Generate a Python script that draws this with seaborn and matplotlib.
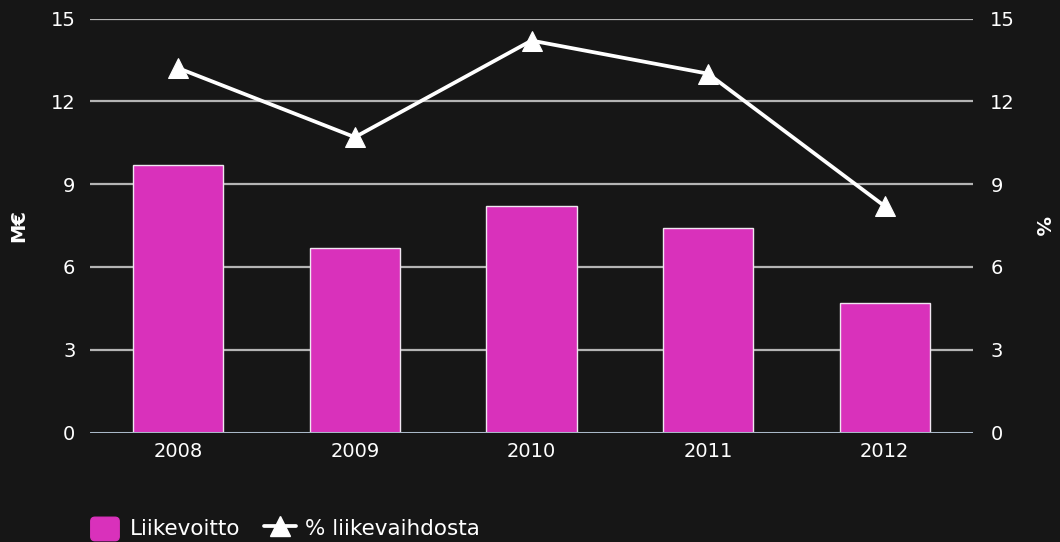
import matplotlib
matplotlib.use("Agg")
import matplotlib.pyplot as plt
import seaborn as sns
import pandas as pd
from matplotlib.patches import FancyBboxPatch
from matplotlib.lines import Line2D
from matplotlib.legend_handler import HandlerPatch

years = ["2008", "2009", "2010", "2011", "2012"]
liikevoitto = [9.7, 6.7, 8.2, 7.4, 4.7]
pct_liikevaihdosta = [13.2, 10.7, 14.2, 13.0, 8.2]
yticks = [0, 3, 6, 9, 12, 15]

BG = "#161616"
BAR = "#d931bb"
TXT = "#ffffff"

sns.set_theme(style="dark")
plt.rcParams["font.family"] = ["DejaVu Sans"]

df = pd.DataFrame({"year": years, "value": liikevoitto, "pct": pct_liikevaihdosta})

fig = plt.figure(figsize=(10.6, 5.42), dpi=100, facecolor=BG)
ax = fig.add_axes([90 / 1060, 1 - 432.5 / 542, 883 / 1060, 414 / 542])
ax.set_facecolor(BG)

sns.barplot(data=df, x="year", y="value", color=BAR, width=0.51,
            edgecolor="#f0e6f0", linewidth=1.0, saturation=1, ax=ax, zorder=3)

ax.set_xlim(-0.5, 4.5)
ax.set_ylim(0, 15)
ax.set_yticks(yticks)
ax.set_yticklabels([str(t) for t in yticks])
ax.grid(False)
for t in yticks[1:]:
    ax.axhline(t, color="#b4b4b4", linewidth=1.6, zorder=1)
ax.axhline(0, color="#a9b8c8", linewidth=2.2, zorder=4)

for s in ax.spines.values():
    s.set_visible(False)
ax.tick_params(axis="both", colors=TXT, labelsize=14, length=0, pad=10.5)
ax.tick_params(axis="x", pad=7)
ax.set_xlabel("")
ax.set_ylabel("M€", color=TXT, fontsize=14, fontweight="bold")
ax.yaxis.set_label_coords(-0.070, 0.5)

ax2 = ax.twinx()
sns.lineplot(data=df, x="year", y="pct", color="white", linewidth=2.7,
             marker="^", markersize=15, markeredgecolor="white", ax=ax2, zorder=5)
ax2.set_ylim(0, 15)
ax2.set_yticks(yticks)
ax2.set_yticklabels([str(t) for t in yticks])
ax2.grid(False)
for s in ax2.spines.values():
    s.set_visible(False)
ax2.tick_params(axis="y", colors=TXT, labelsize=14, length=0, pad=12.5)
ax2.set_ylabel("%", color=TXT, fontsize=14, fontweight="bold", rotation=-90)
ax2.yaxis.set_label_coords(1.088, 0.5)
ax2.set_xlabel("")


class RoundedPatchHandler(HandlerPatch):
    def create_artists(self, legend, orig_handle, xdescent, ydescent,
                       width, height, fontsize, trans):
        p = FancyBboxPatch((-xdescent + 1, -ydescent - 2), width - 2, height + 2,
                           boxstyle="round,pad=0,rounding_size=3",
                           facecolor=BAR, edgecolor=BAR, transform=trans)
        return [p]


bar_handle = FancyBboxPatch((0, 0), 1, 1, facecolor=BAR, label="Liikevoitto")
line_handle = Line2D([0], [0], color="white", linewidth=2.7, marker="^",
                     markersize=14, label="% liikevaihdosta")
leg = fig.legend(handles=[bar_handle, line_handle], loc="lower left",
                 bbox_to_anchor=(70 / 1060, -0.03),
                 ncol=2, frameon=False, fontsize=15.5, labelcolor=TXT,
                 handlelength=1.45, handleheight=1.1, columnspacing=1.1,
                 handletextpad=0.45,
                 handler_map={FancyBboxPatch: RoundedPatchHandler()})

fig.savefig("out.png", dpi=100, facecolor=BG)
